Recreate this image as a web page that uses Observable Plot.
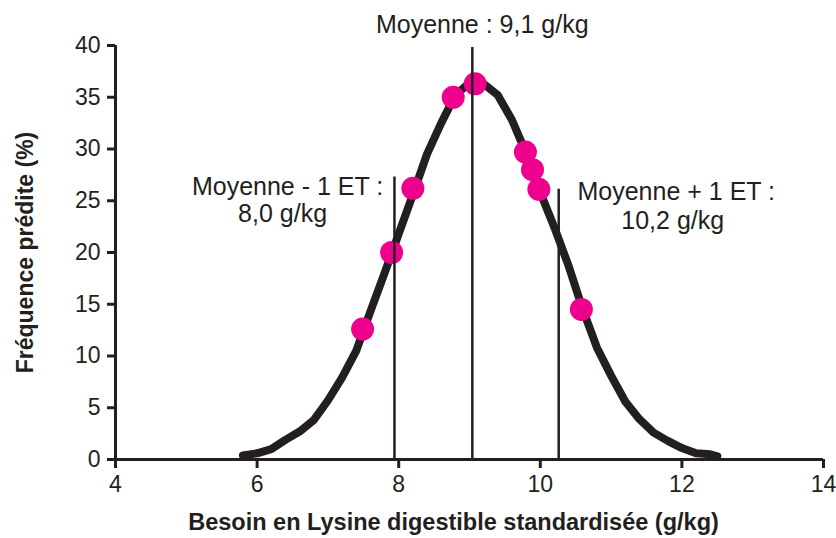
<!DOCTYPE html>
<html><head><meta charset="utf-8">
<script src="https://cdn.jsdelivr.net/npm/d3@7"></script>
<script src="https://cdn.jsdelivr.net/npm/@observablehq/plot@0.6"></script>
<style>html,body{margin:0;padding:0;background:#fff}</style>
</head><body><div id="chart"></div>
<script>
// Predicted frequency curve (x: g/kg, y: %)
const curveX = [5.8, 6.0, 6.2, 6.4, 6.6, 6.8, 7.0, 7.2, 7.4, 7.6, 7.8, 8.0, 8.2, 8.4, 8.6, 8.8, 9.0, 9.2, 9.4, 9.6, 9.8, 10.0, 10.2, 10.4, 10.6, 10.8, 11.0, 11.2, 11.4, 11.6, 11.8, 12.0, 12.2, 12.4, 12.5];
const curveY = [0.4, 0.6, 1.0, 1.9, 2.7, 3.8, 5.7, 7.9, 10.5, 14.3, 18.0, 21.8, 25.6, 29.5, 32.5, 35.2, 36.4, 36.3, 35.2, 32.8, 29.6, 25.8, 22.4, 18.7, 14.5, 10.8, 8.1, 5.6, 3.9, 2.6, 1.8, 1.1, 0.6, 0.5, 0.3];
// Observed points
const dotX = [7.49, 7.9, 8.2, 8.77, 9.08, 9.79, 9.89, 9.98, 10.58];
const dotY = [12.6, 20.0, 26.2, 35.0, 36.3, 29.7, 28.0, 26.1, 14.5];
// Reference lines: mean - 1 SD, mean, mean + 1 SD
const refX = [7.94, 9.04, 10.26];
const refTop = [27.3, 39.8, 26.1];
// Tick values
const xTicks = [4, 6, 8, 10, 12, 14];
const yTicks = [0, 5, 10, 15, 20, 25, 30, 35, 40];
// Texts
const labelTexts = ["Moyenne : 9,1 g/kg", "Moyenne - 1 ET :", "8,0 g/kg", "Moyenne + 1 ET :", "10,2 g/kg"];
const labelX = [9.18, 6.43, 6.36, 11.92, 11.87];
const labelY = [42.0, 26.3, 23.7, 25.8, 23.0];
const xTitle = "Besoin en Lysine digestible standardisée (g/kg)";
const yTitle = "Fréquence prédite (%)";

const ink = "#231f20";
const curve = curveX.map((x, i) => ({x, y: curveY[i]}));
const dots = dotX.map((x, i) => ({x, y: dotY[i]}));
const refs = refX.map((x, i) => ({x, top: refTop[i]}));
const labels = labelTexts.map((t, i) => ({t, x: labelX[i], y: labelY[i]}));

const chart = Plot.plot({
  width: 836, height: 538,
  marginLeft: 115, marginRight: 13, marginTop: 45, marginBottom: 79,
  x: {domain: [4, 14]},
  y: {domain: [0, 40]},
  style: {fontFamily: "'Liberation Sans', Arial, sans-serif", fontSize: "23px", color: ink, background: "#fff", overflow: "visible"},
  marks: [
    Plot.axisX({ticks: xTicks, tickSize: 9, tickPadding: 7, strokeWidth: 3, label: null, fontSize: 23, stroke: ink, fill: ink}),
    Plot.axisY({ticks: yTicks, tickSize: 8, tickPadding: 7, strokeWidth: 3, label: null, fontSize: 23, stroke: ink, fill: ink}),
    Plot.ruleY([0], {stroke: ink, strokeWidth: 3}),
    Plot.ruleX([4], {stroke: ink, strokeWidth: 3}),
    Plot.line(curve, {x: "x", y: "y", stroke: ink, strokeWidth: 8, strokeLinejoin: "round", strokeLinecap: "round"}),
    Plot.dot(dots, {x: "x", y: "y", r: 11.5, fill: "#EC008C", stroke: null}),
    Plot.ruleX(refs, {x: "x", y1: 0, y2: "top", stroke: ink, strokeWidth: 2.5}),
    Plot.text(labels, {x: "x", y: "y", text: "t", fontSize: 25, fill: ink, textAnchor: "middle", lineAnchor: "middle"}),
    Plot.text([xTitle], {text: d => d, frameAnchor: "bottom", textAnchor: "middle", lineAnchor: "middle", dx: -16, dy: 63, fontSize: 23.5, fontWeight: "bold", fill: ink}),
    Plot.text([yTitle], {text: d => d, frameAnchor: "left", textAnchor: "middle", lineAnchor: "middle", dx: -90, rotate: -90, fontSize: 23, fontWeight: "bold", fill: ink})
  ]
});
document.getElementById("chart").appendChild(chart);
</script>
</body></html>
